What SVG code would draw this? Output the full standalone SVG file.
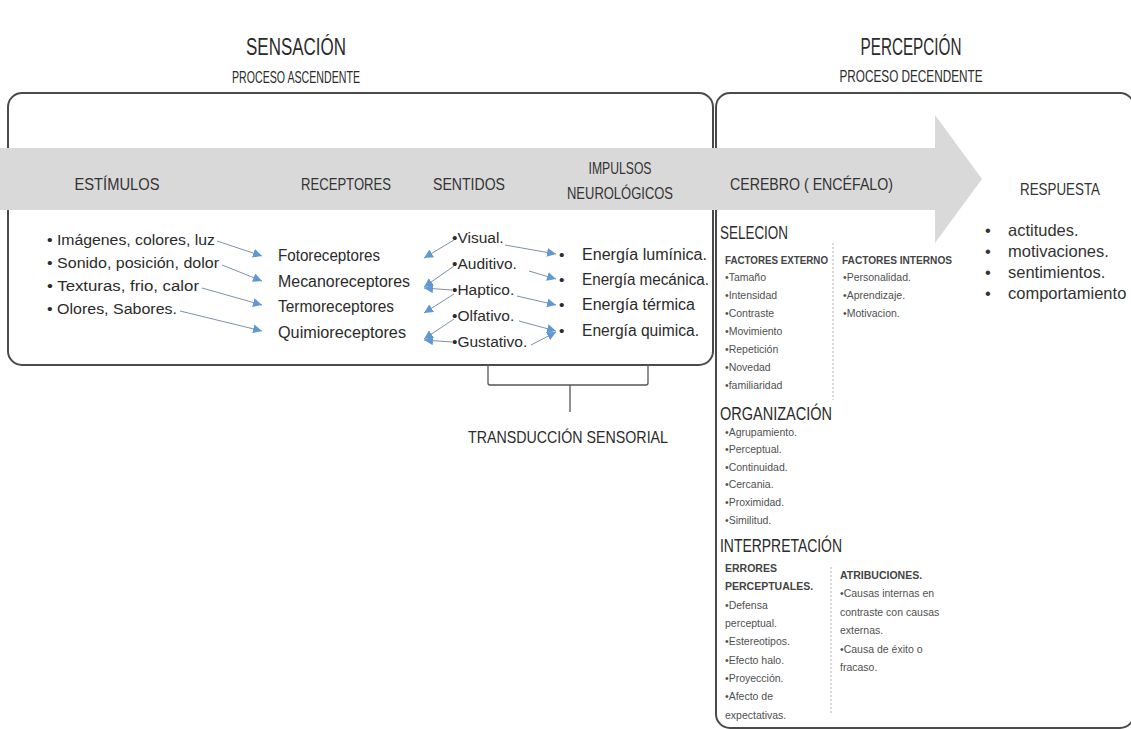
<svg xmlns="http://www.w3.org/2000/svg" width="1131" height="729" viewBox="0 0 1131 729">
<style>
text{font-family:"Liberation Sans",Arial,sans-serif;fill:#2b2b2b}
.h1{font-size:24px}
.h2{font-size:17px}
.bh{font-size:17px;fill:#333}
.li{font-size:15.5px}
.rc{font-size:16px}
.rs{font-size:16.5px;fill:#333}
.sec{font-size:19px}
.sm{font-size:10.5px;fill:#505050}
.smb{font-size:10.5px;font-weight:bold;fill:#444}
.box{fill:none;stroke:#4a4a4a;stroke-width:2}
.ln{fill:none;stroke:#8090a8;stroke-width:1}
.dot{fill:none;stroke:#b0b0b0;stroke-width:1;stroke-dasharray:2 2}
.br{fill:none;stroke:#555;stroke-width:1.3}
</style>
<defs>
<marker id="ah" viewBox="0 0 10 10" refX="10" refY="5" markerWidth="9" markerHeight="9" markerUnits="userSpaceOnUse" orient="auto">
<path d="M0,0 L10,5 L0,10 z" fill="#5f98d2"/>
</marker>
</defs>
<rect width="1131" height="729" fill="#fff"/>

<g id="titles">
<text class="h1" x="296" y="55" text-anchor="middle" textLength="100" lengthAdjust="spacingAndGlyphs">SENSACIÓN</text>
<text class="h2" x="296" y="83" text-anchor="middle" textLength="128" lengthAdjust="spacingAndGlyphs">PROCESO ASCENDENTE</text>
<text class="h1" x="911" y="55" text-anchor="middle" textLength="101" lengthAdjust="spacingAndGlyphs">PERCEPCIÓN</text>
<text class="h2" x="911" y="82" text-anchor="middle" textLength="143" lengthAdjust="spacingAndGlyphs">PROCESO DECENDENTE</text>
</g>

<g id="boxes">
<rect id="sensacion-box" class="box" x="8" y="93" width="705" height="272" rx="14"/>
<rect id="percepcion-box" class="box" x="716" y="93" width="418" height="635" rx="14"/>
</g>

<g id="band">
<polygon points="0,148 935,148 935,115 982,179 935,243 935,210 0,210" fill="#d9d9d9"/>
<text class="bh" x="117" y="190" text-anchor="middle" textLength="85" lengthAdjust="spacingAndGlyphs">ESTÍMULOS</text>
<text class="bh" x="346" y="190" text-anchor="middle" textLength="90" lengthAdjust="spacingAndGlyphs">RECEPTORES</text>
<text class="bh" x="469" y="190" text-anchor="middle" textLength="72" lengthAdjust="spacingAndGlyphs">SENTIDOS</text>
<text class="bh" x="620" y="174" text-anchor="middle" textLength="63" lengthAdjust="spacingAndGlyphs">IMPULSOS</text>
<text class="bh" x="620" y="199" text-anchor="middle" textLength="106" lengthAdjust="spacingAndGlyphs">NEUROLÓGICOS</text>
<text class="bh" x="730" y="190" textLength="163" lengthAdjust="spacingAndGlyphs">CEREBRO ( ENCÉFALO)</text>
<text class="bh" x="1060" y="195" text-anchor="middle" textLength="80" lengthAdjust="spacingAndGlyphs">RESPUESTA</text>
</g>

<g id="estimulos">
<text class="li" x="47" y="245" textLength="168" lengthAdjust="spacingAndGlyphs">• Imágenes, colores, luz</text>
<text class="li" x="47" y="268" textLength="172" lengthAdjust="spacingAndGlyphs">• Sonido, posición, dolor</text>
<text class="li" x="47" y="291" textLength="152" lengthAdjust="spacingAndGlyphs">• Texturas, frio, calor</text>
<text class="li" x="47" y="314" textLength="130" lengthAdjust="spacingAndGlyphs">• Olores, Sabores.</text>
</g>

<g id="receptores">
<text class="rc" x="278" y="261" textLength="102" lengthAdjust="spacingAndGlyphs">Fotoreceptores</text>
<text class="rc" x="278" y="287" textLength="132" lengthAdjust="spacingAndGlyphs">Mecanoreceptores</text>
<text class="rc" x="278" y="312" textLength="116" lengthAdjust="spacingAndGlyphs">Termoreceptores</text>
<text class="rc" x="278" y="338" textLength="128" lengthAdjust="spacingAndGlyphs">Quimioreceptores</text>
</g>

<g id="sentidos">
<text class="li" x="452" y="243">•Visual.</text>
<text class="li" x="452" y="269">•Auditivo.</text>
<text class="li" x="452" y="295">•Haptico.</text>
<text class="li" x="452" y="321">•Olfativo.</text>
<text class="li" x="452" y="347">•Gustativo.</text>
</g>

<g id="impulsos">
<text class="li" x="559" y="260">•</text>
<text class="li" x="559" y="285">•</text>
<text class="li" x="559" y="310">•</text>
<text class="li" x="559" y="336">•</text>
<text class="rc" x="582" y="260" textLength="125" lengthAdjust="spacingAndGlyphs">Energía lumínica.</text>
<text class="rc" x="582" y="285" textLength="127" lengthAdjust="spacingAndGlyphs">Energía mecánica.</text>
<text class="rc" x="582" y="310" textLength="113" lengthAdjust="spacingAndGlyphs">Energía térmica</text>
<text class="rc" x="582" y="336" textLength="117" lengthAdjust="spacingAndGlyphs">Energía quimica.</text>
</g>

<g id="connectors">
<line class="ln" x1="217" y1="241" x2="262" y2="256" marker-end="url(#ah)"/>
<line class="ln" x1="222" y1="265" x2="262" y2="281" marker-end="url(#ah)"/>
<line class="ln" x1="202" y1="288" x2="262" y2="305" marker-end="url(#ah)"/>
<line class="ln" x1="180" y1="311" x2="262" y2="331" marker-end="url(#ah)"/>
<line class="ln" x1="454" y1="240" x2="424" y2="258" marker-end="url(#ah)"/>
<line class="ln" x1="454" y1="266" x2="424" y2="287" marker-end="url(#ah)"/>
<line class="ln" x1="452" y1="290" x2="424" y2="288" marker-end="url(#ah)"/>
<line class="ln" x1="454" y1="294" x2="424" y2="313" marker-end="url(#ah)"/>
<line class="ln" x1="454" y1="319" x2="424" y2="339" marker-end="url(#ah)"/>
<line class="ln" x1="452" y1="342" x2="424" y2="340" marker-end="url(#ah)"/>
<line class="ln" x1="505" y1="245" x2="556" y2="254" marker-end="url(#ah)"/>
<line class="ln" x1="529" y1="271" x2="556" y2="279" marker-end="url(#ah)"/>
<line class="ln" x1="517" y1="296" x2="556" y2="305" marker-end="url(#ah)"/>
<line class="ln" x1="519" y1="321" x2="556" y2="331" marker-end="url(#ah)"/>
<line class="ln" x1="531" y1="345" x2="556" y2="332" marker-end="url(#ah)"/>
<path class="br" d="M488 365 V383 Q488 385 490 385 H646 Q648 385 648 383 V365 M570 385 V412"/>
</g>

<g id="transduccion">
<text class="h2" x="568" y="443" text-anchor="middle" textLength="200" lengthAdjust="spacingAndGlyphs">TRANSDUCCIÓN SENSORIAL</text>
</g>

<g id="seleccion">
<text class="sec" x="720" y="239" textLength="68" lengthAdjust="spacingAndGlyphs">SELECION</text>
<line class="dot" x1="833" y1="243" x2="833" y2="400"/>
<text class="smb" x="725" y="264" textLength="103" lengthAdjust="spacingAndGlyphs">FACTORES EXTERNO</text>
<text class="sm" x="725" y="281">•Tamaño</text>
<text class="sm" x="725" y="299">•Intensidad</text>
<text class="sm" x="725" y="317">•Contraste</text>
<text class="sm" x="725" y="335">•Movimiento</text>
<text class="sm" x="725" y="353">•Repetición</text>
<text class="sm" x="725" y="371">•Novedad</text>
<text class="sm" x="725" y="389">•familiaridad</text>
<text class="smb" x="842" y="264" textLength="110" lengthAdjust="spacingAndGlyphs">FACTORES INTERNOS</text>
<text class="sm" x="843" y="281">•Personalidad.</text>
<text class="sm" x="843" y="299">•Aprendizaje.</text>
<text class="sm" x="843" y="317">•Motivacion.</text>
</g>

<g id="organizacion">
<text class="sec" x="720" y="420" textLength="112" lengthAdjust="spacingAndGlyphs">ORGANIZACIÓN</text>
<text class="sm" x="725" y="436">•Agrupamiento.</text>
<text class="sm" x="725" y="453">•Perceptual.</text>
<text class="sm" x="725" y="471">•Continuidad.</text>
<text class="sm" x="725" y="488">•Cercania.</text>
<text class="sm" x="725" y="506">•Proximidad.</text>
<text class="sm" x="725" y="524">•Similitud.</text>
</g>

<g id="interpretacion">
<text class="sec" x="720" y="552" textLength="122" lengthAdjust="spacingAndGlyphs">INTERPRETACIÓN</text>
<line class="dot" x1="831" y1="567" x2="831" y2="713"/>
<text class="smb" x="725" y="572">ERRORES</text>
<text class="smb" x="725" y="590">PERCEPTUALES.</text>
<text class="sm" x="725" y="609">•Defensa</text>
<text class="sm" x="725" y="627">perceptual.</text>
<text class="sm" x="725" y="645">•Estereotipos.</text>
<text class="sm" x="725" y="664">•Efecto halo.</text>
<text class="sm" x="725" y="682">•Proyección.</text>
<text class="sm" x="725" y="700">•Afecto de</text>
<text class="sm" x="725" y="719">expectativas.</text>
<text class="smb" x="840" y="579">ATRIBUCIONES.</text>
<text class="sm" x="840" y="597">•Causas internas en</text>
<text class="sm" x="840" y="616">contraste con causas</text>
<text class="sm" x="840" y="634">externas.</text>
<text class="sm" x="840" y="653">•Causa de éxito o</text>
<text class="sm" x="840" y="671">fracaso.</text>
</g>

<g id="respuesta">
<text class="rs" x="985" y="236">•</text>
<text class="rs" x="985" y="257">•</text>
<text class="rs" x="985" y="278">•</text>
<text class="rs" x="985" y="299">•</text>
<text class="rs" x="1008" y="236">actitudes.</text>
<text class="rs" x="1008" y="257">motivaciones.</text>
<text class="rs" x="1008" y="278">sentimientos.</text>
<text class="rs" x="1008" y="299">comportamiento</text>
</g>
</svg>
